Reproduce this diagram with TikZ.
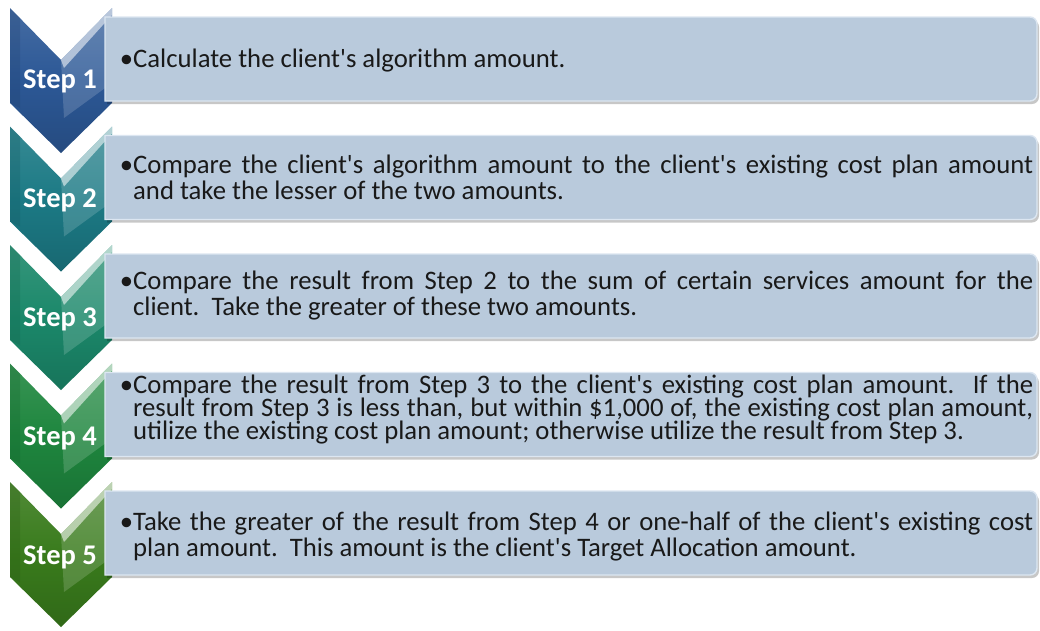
\documentclass[tikz,border=0pt]{standalone}
\usepackage{fontspec}
\setmainfont{Carlito}
\newfontfamily\txtfont{Carlito}
\definecolor{cA}{HTML}{2C5896}
\definecolor{cB}{HTML}{1C7A85}
\definecolor{cC}{HTML}{1B886A}
\definecolor{cD}{HTML}{1E863E}
\definecolor{cE}{HTML}{397B1C}
\definecolor{boxfill}{HTML}{B9CADC}
\definecolor{boxedge}{HTML}{DCE6F1}
\newcommand\bodypar[2]{\vtop{\hsize=900pt\parindent=0pt\txtfont\fontsize{26.7}{#1}\selectfont\leavevmode\llap{•}#2\par}}
\tikzset{
  steplabel/.style={text=white, font=\txtfont\fontsize{28.5}{28.5}\selectfont\bfseries, anchor=base, inner sep=0pt},
  bodytext/.style={anchor=base west, inner sep=0pt, text=black!90},
  boxshadow/.style={fill=black, opacity=0.22},
  boxbody/.style={fill=boxfill, draw=boxedge, line width=1.4pt},
}
\begin{document}
\begin{tikzpicture}[x=1pt,y=-1pt]
\useasboundingbox (0,0) rectangle (1040,630);
\fill[white] (0,0) rectangle (1040,630);
% chevrons
\foreach \i/\c in {0/cA,1/cB,2/cC,3/cD,4/cE}{
  \pgfmathsetmacro\yo{8+118.5*\i}
  \path[top color=\c!88!white, bottom color=\c!85!black, middle color=\c]
    (10,\yo) -- (61,\yo+52) -- (112,\yo) -- (112,\yo+95) -- (61,\yo+145) -- (10,\yo+95) -- cycle;
  \fill[white, opacity=0.16] (61,\yo+52) -- (112,\yo) -- (112,\yo+75) -- (64,\yo+110) -- cycle;
  \fill[white, opacity=0.55] (61,\yo+52) -- (112,\yo) -- (112,\yo+7) -- (64,\yo+60) -- cycle;
  \fill[\c!70!black, opacity=0.25] (10,\yo) -- (20,\yo+10) -- (20,\yo+100) -- (10,\yo+95) -- cycle;
}
% boxes
\foreach \i in {0,...,4}{
  \pgfmathsetmacro\tp{8+118.5*\i+9}
  \pgfmathsetmacro\bt{8+118.5*\i+93}
  \fill[boxshadow, shift={(2,3)}] (105,\tp) -- (1030,\tp) arc[start angle=-90,end angle=0,radius=7]
     -- (1037,\bt-7) arc[start angle=0,end angle=90,radius=7] -- (105,\bt) -- cycle;
  \path[boxbody] (105,\tp) -- (1030,\tp) arc[start angle=-90,end angle=0,radius=7]
     -- (1037,\bt-7) arc[start angle=0,end angle=90,radius=7] -- (105,\bt) -- cycle;
}
% step labels
\node[steplabel] (s1) at (60,88) {Step 1};
\node[steplabel] (s2) at (60,207) {Step 2};
\node[steplabel] (s3) at (60,326) {Step 3};
\node[steplabel] (s4) at (60,445) {Step 4};
\node[steplabel] (s5) at (60,564) {Step 5};
% texts
\node[bodytext] (t1) at (133,67)
  {\bodypar{26.7}{Calculate the client's algorithm amount.}};
\node[bodytext] (t2) at (133,173)
  {\bodypar{26.7}{Compare the client's algorithm amount to the client's existing cost plan amount\linebreak and take the lesser of the two amounts.}};
\node[bodytext] (t3) at (133,289)
  {\bodypar{26.7}{Compare the result from Step 2 to the sum of certain services amount for the\linebreak client.\ \ Take the greater of these two amounts.}};
\node[bodytext] (t4) at (133,393)
  {\bodypar{23.3}{Compare the result from Step 3 to the client's existing cost plan amount.\ \ If the\linebreak result from Step 3 is less than, but within \$1,000 of, the existing cost plan amount,\linebreak utilize the existing cost plan amount; otherwise utilize the result from Step 3.}};
\node[bodytext] (t5) at (133,530)
  {\bodypar{26.7}{Take the greater of the result from Step 4 or one-half of the client's existing cost\linebreak plan amount.\ \ This amount is the client's Target Allocation amount.}};
\end{tikzpicture}
\end{document}
